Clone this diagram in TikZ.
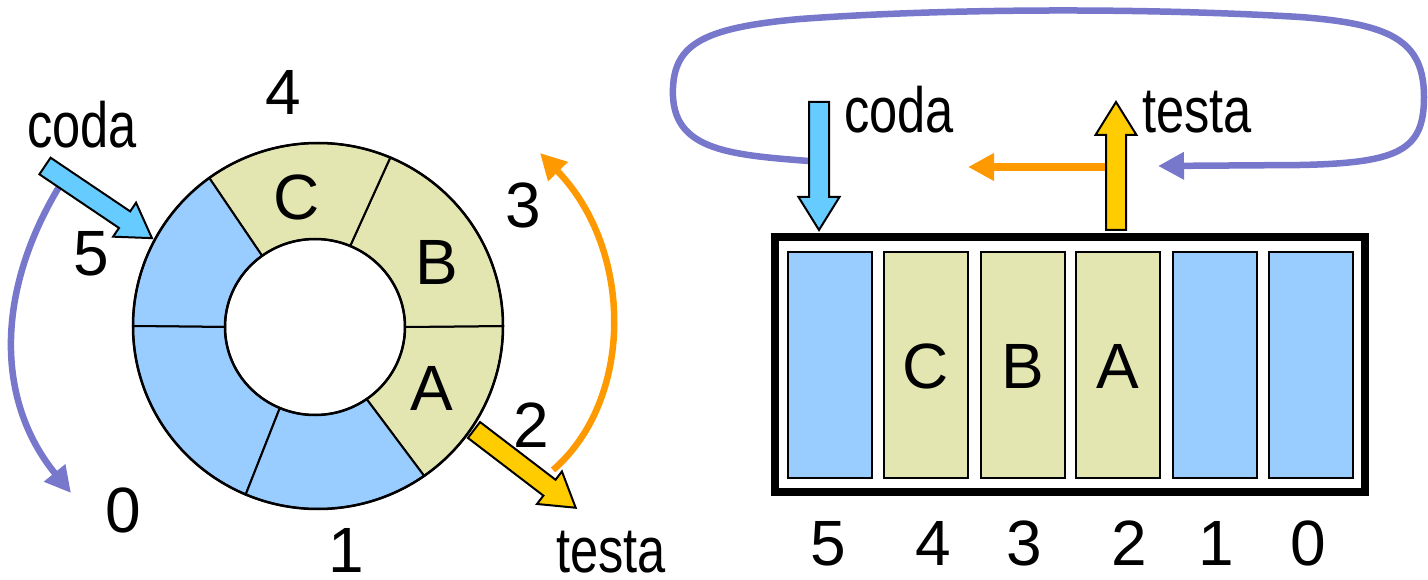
\documentclass[tikz,border=0pt]{standalone}
\usepackage{fontspec}
\setmainfont{Liberation Sans}
\newfontfamily\narrowsans[FakeStretch=0.79]{Liberation Sans}
\usetikzlibrary{arrows.meta,calc}

\definecolor{slotblue}{RGB}{153,204,255}
\definecolor{slotfull}{RGB}{227,230,177}
\definecolor{tailcyan}{RGB}{102,204,255}
\definecolor{headgold}{RGB}{255,204,0}
\definecolor{wraporange}{RGB}{255,153,0}
\definecolor{wrapviolet}{RGB}{119,119,204}

% block arrow: tail point, direction angle, length, fill colour
\newcommand\blockarrow[4]{%
  \begin{scope}[shift={#1},rotate=#2]
    \filldraw[fill=#4,line width=2pt,line join=miter]
      (0,10) -- ({#3-33},10) -- ({#3-33},20.5) -- (#3,0)
      -- ({#3-33},-20.5) -- ({#3-33},-10) -- (0,-10) -- cycle;
  \end{scope}}

% one slot of the circular buffer: start angle, end angle, fill colour
\newcommand\ringslot[3]{%
  \filldraw[fill=#3,line width=2pt]
    ([shift={(#1:185pt and 183pt)}]O)
    arc[start angle=#1,end angle=#2,x radius=185pt,y radius=183pt]
    -- ([shift={(#2:90pt and 88pt)}]I)
    arc[start angle=#2,end angle=#1,x radius=90pt,y radius=88pt]
    -- cycle;}

\begin{document}
\begin{tikzpicture}[x=1pt,y=-1pt,
  lbl/.style={inner sep=0pt,anchor=base,font=\fontsize{64}{70}\selectfont},
  word/.style={inner sep=0pt,anchor=base,font=\narrowsans\fontsize{64}{70}\selectfont},
  cell/.style={draw,line width=2pt,minimum width=84pt,minimum height=226pt,inner sep=0pt},
  wrap/.style={line width=6.5pt,-{Triangle[length=26pt,width=26pt]}},
]
\useasboundingbox (0,0) rectangle (1428,580);

% ---------- circular buffer ----------
\coordinate (O) at (318,326);
\coordinate (I) at (315,327);
\ringslot{-55}{0}{slotfull}
\ringslot{0}{67}{slotfull}
\ringslot{67}{126}{slotfull}
\ringslot{126}{180}{slotblue}
\ringslot{180}{247}{slotblue}
\ringslot{247}{305}{slotblue}
\draw[line width=2.5pt] (O) ellipse[x radius=185pt,y radius=183pt];
\draw[line width=2.5pt] (I) ellipse[x radius=90pt,y radius=88pt];

\node[lbl] (ringA) at (432,410) {A};
\node[lbl] (ringB) at (437,284) {B};
\node[lbl] (ringC) at (297,220) {C};

\node[lbl] (r4) at (283,115) {4};
\node[lbl] (r5) at (91,276) {5};
\node[lbl] (r3) at (523,228) {3};
\node[lbl] (r2) at (531,447) {2};
\node[lbl] (r0) at (123,532) {0};
\node[lbl] (r1) at (346,572) {1};

\node[word] (ringcoda) at (82,148) {coda};
\node[word] (ringtesta) at (611,572) {testa};

% wrap-around movements
\coordinate (cwA) at (62,182);
\coordinate (cwB) at (71,493);
\draw[wrap,wrapviolet] (cwA) .. controls (-5,290) and (-5,400) .. (cwB);
\coordinate (owA) at (553,470);
\coordinate (owB) at (540,153);
\draw[wrap,wraporange] (owA) .. controls (634,400) and (634,250) .. (owB);

% pointers
\blockarrow{(45,166)}{-34}{129}{tailcyan}
\blockarrow{(474,430)}{-37.4}{128}{headgold}

% ---------- linear buffer ----------
\coordinate (loopA) at (809,161);
\coordinate (loopB) at (1158,166);
\draw[line width=6.5pt,wrapviolet,-{Triangle[length=26pt,width=26pt]}]
  (loopA) .. controls (730,155) and (676,150) .. (673,97)
  .. controls (671,45) and (700,28) .. (800,19)
  .. controls (950,8) and (1150,8) .. (1300,17)
  .. controls (1390,24) and (1424,40) .. (1424,97)
  .. controls (1424,150) and (1400,163) .. (1300,165) -- (loopB);

\draw[line width=8pt] (775,237) rectangle (1365,492);

\node[cell,fill=slotblue] (s5) at (830,365) {};
\node[cell,fill=slotfull] (s4) at (926,365) {};
\node[cell,fill=slotfull] (s3) at (1022.5,365) {};
\node[cell,fill=slotfull] (s2) at (1118,365) {};
\node[cell,fill=slotblue] (s1) at (1214.5,365) {};
\node[cell,fill=slotblue] (s0) at (1311,365) {};

\node[lbl] (lC) at (926,388) {C};
\node[lbl] (lB) at (1022.5,388) {B};
\node[lbl] (lA) at (1118,388) {A};

\node[lbl] (i5) at (828,565) {5};
\node[lbl] (i4) at (933,565) {4};
\node[lbl] (i3) at (1024,565) {3};
\node[lbl] (i2) at (1129,565) {2};
\node[lbl] (i1) at (1216,565) {1};
\node[lbl] (i0) at (1308,565) {0};

\coordinate (shiftA) at (1108,167);
\coordinate (shiftB) at (968,167);
\draw[line width=8pt,wraporange,-{Triangle[length=26pt,width=26pt]}] (shiftA) -- (shiftB);

\blockarrow{(819,102)}{-90}{128}{tailcyan}
\blockarrow{(1116,230)}{90}{128}{headgold}

\node[word] (linecoda) at (899,133) {coda};
\node[word] (linetesta) at (1197,133) {testa};
\end{tikzpicture}
\end{document}
